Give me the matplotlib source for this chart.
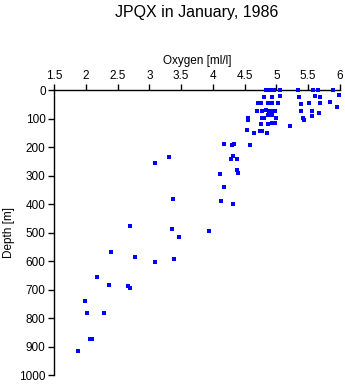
"""Oxygen profile scatter for JPQX, January 1986."""

import matplotlib
matplotlib.use("Agg")
import matplotlib.pyplot as plt

oxygen = [
    4.83, 4.885, 4.92, 4.96, 5.05, 5.34, 5.58, 5.65, 5.89,
    4.80, 4.93, 5.05, 5.36, 5.60, 5.69, 5.99,
    4.71, 4.75, 4.87, 4.93, 5.03, 5.39, 5.51, 5.69, 5.85,
    5.95,
    4.69, 4.78, 4.83, 4.89, 4.94, 4.98, 5.39, 5.56,
    5.67,
    5.56, 4.87, 4.93,
    4.77, 4.80, 4.99, 4.56, 5.42,
    4.56, 5.43,
    4.93, 4.97, 4.76, 4.87,
    5.21, 4.54, 4.74, 4.78, 4.64, 4.85,
    4.18, 4.33, 4.30, 4.58,
    4.31, 4.29, 4.38, 3.31, 3.09,
    4.38, 4.40, 4.11,
    4.18, 3.38, 4.13, 4.31,
    2.69, 3.36, 3.94, 3.47, 2.40, 2.78, 3.39, 3.09,
    2.18, 2.37, 2.66, 2.69, 1.99, 2.02, 2.28, 2.07, 2.10, 1.88,
]
depth = [
    0, 0, 0, 0, 0, 0, 0, 0, 0,
    24, 24, 22, 24, 22, 24, 19,
    47, 47, 47, 47, 47, 48, 47, 47, 41,
    60,
    72, 72, 71, 73, 72, 74, 73, 72,
    80,
    92, 89, 89,
    98, 98, 98, 98, 98,
    104, 104,
    117, 117, 121, 121,
    127, 141, 145, 145, 150, 150,
    189, 189, 194, 194,
    232, 243, 243, 235, 256,
    282, 291, 295,
    340, 382, 389, 400,
    477, 488, 495, 516, 569, 586, 592, 605,
    657, 685, 687, 695, 741, 783, 781, 873, 875, 917,
]
x_ticks = [1.5, 2, 2.5, 3, 3.5, 4, 4.5, 5, 5.5, 6]
x_labels = ["1.5", "2", "2.5", "3", "3.5", "4", "4.5", "5", "5.5", "6"]
y_ticks = [0, 100, 200, 300, 400, 500, 600, 700, 800, 900, 1000]

plt.rcParams["font.family"] = ["Liberation Sans", "DejaVu Sans"]

fig = plt.figure(figsize=(3.45, 3.84), dpi=100)
ax = fig.add_axes([0.1565, 0.0234, 0.829, 0.7422])

ax.scatter(oxygen, depth, s=5.5, marker="s", color="#0000ff", linewidths=0,
           clip_on=False, zorder=3)

ax.set_xlim(1.5, 6)
ax.set_ylim(1000, 0)
ax.xaxis.tick_top()
ax.xaxis.set_label_position("top")
ax.set_xticks(x_ticks)
ax.set_xticklabels(x_labels)
ax.set_yticks(y_ticks)
ax.tick_params(direction="out", length=4, width=1, labelsize=8.5, pad=2)
ax.set_xlabel("Oxygen [ml/l]", fontsize=8.5, labelpad=4)
ax.set_ylabel("Depth [m]", fontsize=8.5, labelpad=3)

for side in ("right", "bottom"):
    ax.spines[side].set_visible(False)
for side in ("left", "top"):
    ax.spines[side].set_linewidth(1)

fig.text(0.571, 1 - 13 / 384, "JPQX in January, 1986", ha="center", va="center", fontsize=11.5)

fig.savefig("out.png", dpi=100)
